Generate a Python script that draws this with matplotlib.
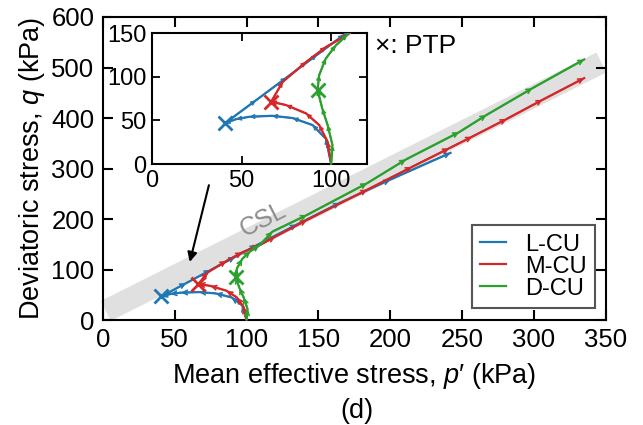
import matplotlib
matplotlib.use("Agg")
import matplotlib.pyplot as plt

plt.rcParams["font.family"] = ["Liberation Sans", "DejaVu Sans"]
plt.rcParams["mathtext.fontset"] = "custom"
plt.rcParams["mathtext.rm"] = "Liberation Sans"
plt.rcParams["mathtext.it"] = "Liberation Sans:italic"

# effective stress paths, p' and q in kPa
l_p = [100, 97, 89.6, 78.5, 67, 54.4, 47, 40.6, 58, 75, 92, 107, 135, 165, 200, 242]
l_q = [0, 29, 44.7, 52.7, 55.3, 54.2, 51.5, 46.6, 73, 99, 125, 148, 189, 232, 278, 331]

m_p = [100, 98, 93.3, 86, 74.8, 66.5, 73, 86, 97, 109, 120, 142, 184, 215, 241, 257, 281, 306, 335]
m_q = [0, 25.6, 44.7, 58, 67.6, 71.4, 94.3, 117, 134, 148, 165, 198, 258, 303, 340, 363, 398, 436, 479]

d_p = [100, 100.7, 98, 95, 92.4, 93.3, 97, 102.6, 109, 118, 142, 184, 211, 248, 267, 299, 335]
d_q = [0, 21.8, 44.7, 63.8, 84.8, 102, 121, 136, 148, 175, 208, 271, 318, 372, 406, 459, 516]

# phase transformation points
ptp_p = [40.6, 66.5, 92.4]
ptp_q = [46.6, 71.4, 84.8]

# critical state line (band ends)
csl_p = [2, 347]
csl_q = [18, 510]

labels = ["L-CU", "M-CU", "D-CU"]
colors = ["#1f77b4", "#d62728", "#2ca02c"]
paths = [(l_p, l_q), (m_p, m_q), (d_p, d_q)]


def draw_paths(ax, arrow_size):
    for (p, q), c, lab in zip(paths, colors, labels):
        ax.plot(p, q, color=c, lw=1.6, label=lab, zorder=3)
        for i in range(1, len(p)):
            ax.annotate("", xy=(p[i], q[i]), xytext=(p[i - 1], q[i - 1]),
                        arrowprops=dict(arrowstyle="->", color=c, lw=1.2,
                                        shrinkA=0, shrinkB=0,
                                        mutation_scale=arrow_size),
                        zorder=3, annotation_clip=True)
    for pp, qq, c in zip(ptp_p, ptp_q, colors):
        ax.plot(pp, qq, marker="x", ms=10, mew=2, color=c, zorder=4)


fig = plt.figure(figsize=(6.43, 4.25), dpi=100)
ax = fig.add_axes([0.160, 0.247, 0.782, 0.713])

ax.plot(csl_p, csl_q, color="#e0e0e0", lw=16, solid_capstyle="butt",
        zorder=0, clip_on=False)
ax.text(111.7, 198, "CSL", color="#8c8c8c", fontsize=18, rotation=27,
        ha="center", va="center", zorder=1)

draw_paths(ax, 8)

ax.set_xlim(0, 350)
ax.set_ylim(0, 600)
ax.set_xticks(range(0, 351, 50))
ax.set_yticks(range(0, 601, 100))
ax.tick_params(direction="in", length=7, width=1.5, top=True, right=True,
               labelsize=18.5, pad=6)
for s in ax.spines.values():
    s.set_linewidth(1.5)
ax.set_xlabel("Mean effective stress, $p$′ (kPa)", fontsize=19.5, labelpad=6)
ax.set_ylabel("Deviatoric stress, $q$ (kPa)", fontsize=19.5, labelpad=3)

leg = ax.legend(loc="lower right", bbox_to_anchor=(0.978, 0.04),
                borderaxespad=0, fancybox=False, edgecolor="#555555",
                framealpha=1, fontsize=17, handlelength=1.1,
                handletextpad=0.8, labelspacing=0.0, borderpad=0.35)
leg.get_frame().set_linewidth(1.5)

ax.text(0.541, 0.904, "×: PTP", transform=ax.transAxes, fontsize=19,
        va="center", ha="left")

ax.annotate("", xy=(60.5, 115), xytext=(73.8, 267),
            arrowprops=dict(arrowstyle="-|>", color="k", lw=1.5,
                            shrinkA=0, shrinkB=0, mutation_scale=14),
            zorder=5)

# inset
axi = fig.add_axes([0.2364, 0.614, 0.3344, 0.308])
draw_paths(axi, 6)
axi.set_xlim(0, 120)
axi.set_ylim(0, 150)
axi.set_xticks([0, 50, 100])
axi.set_yticks([0, 50, 100, 150])
axi.tick_params(direction="in", length=6, width=1.3, top=True, right=True,
                labelsize=17, pad=4)
for s in axi.spines.values():
    s.set_linewidth(1.5)

fig.text(0.555, 0.033, "(d)", ha="center", va="center", fontsize=19.5)

fig.savefig("out.png", dpi=100)
